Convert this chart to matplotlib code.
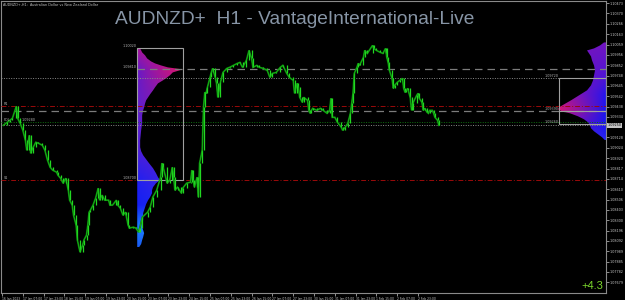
import numpy as np
import matplotlib
matplotlib.use("Agg")
import matplotlib.pyplot as plt
import matplotlib.transforms as mtransforms
from matplotlib.patches import Rectangle

## data ##

# H1 bars, index from the first bar on screen
bar_idx = [1, 4, 6, 8, 11, 12, 14, 16, 18, 19, 21, 22, 24, 26, 28, 31, 33, 35, 37, 39,
           42, 43, 45, 47, 49, 51, 52, 54, 55, 57, 58, 60, 62, 63, 65, 66, 67, 68, 70, 72,
           74, 75, 77, 79, 82, 83, 85, 88, 89, 91, 93, 95, 97, 98, 101, 103, 105, 106, 108, 112,
           114, 116, 119, 122, 123, 124, 127, 129, 131, 132, 133, 135, 138, 139, 142, 145, 146, 147, 148, 150,
           151, 152, 154, 155, 156, 157, 158, 160, 161, 162, 164, 165, 166, 168, 170, 173, 175, 178, 181, 183,
           185, 188, 190, 192, 193, 196, 198, 201, 204, 206, 208, 211, 214, 216, 219, 221, 224, 225, 227, 228,
           229, 231, 232, 235, 236, 237, 238, 239, 242, 245, 247, 250, 252, 253, 254, 256, 258, 261, 262, 264,
           266, 268, 269, 270, 271, 273, 274, 275, 278, 279, 281, 285, 286, 288, 291, 293, 295, 296, 297, 298,
           300, 301, 302, 304, 306, 308, 309, 310, 311, 312, 314, 315, 316, 319, 320, 321, 323, 324, 325, 327,
           328, 329, 331, 332, 333, 335, 336]
close = [1.0925, 1.0928, 1.0930, 1.0932, 1.0944, 1.0932, 1.0927, 1.0920, 1.0910, 1.0900, 1.0915, 1.0897, 1.0903, 1.0908, 1.0907, 1.0905, 1.0900, 1.0890, 1.0883, 1.0880,
         1.0878, 1.0875, 1.0872, 1.0867, 1.0872, 1.0860, 1.0850, 1.0845, 1.0835, 1.0825, 1.0810, 1.0798, 1.0805, 1.0810, 1.0815, 1.0825, 1.0838, 1.0840, 1.0845, 1.0852,
         1.0862, 1.0850, 1.0855, 1.0850, 1.0850, 1.0845, 1.0845, 1.0850, 1.0845, 1.0842, 1.0835, 1.0838, 1.0825, 1.0822, 1.0823, 1.0822, 1.0818, 1.0822, 1.0833, 1.0838,
         1.0843, 1.0853, 1.0860, 1.0873, 1.0887, 1.0883, 1.0867, 1.0870, 1.0883, 1.0873, 1.0860, 1.0863, 1.0857, 1.0862, 1.0867, 1.0868, 1.0880, 1.0870, 1.0863, 1.0873,
         1.0853, 1.0887, 1.0900, 1.0943, 1.0958, 1.0957, 1.0963, 1.0973, 1.0978, 1.0982, 1.0973, 1.0967, 1.0953, 1.0968, 1.0978, 1.0982, 1.0983, 1.0985, 1.0987, 1.0988,
         1.0983, 1.0990, 1.1000, 1.0992, 1.0983, 1.0985, 1.0983, 1.0982, 1.0980, 1.0973, 1.0977, 1.0978, 1.0983, 1.0985, 1.0977, 1.0973, 1.0970, 1.0957, 1.0967, 1.0963,
         1.0953, 1.0948, 1.0953, 1.0950, 1.0940, 1.0937, 1.0940, 1.0942, 1.0940, 1.0942, 1.0940, 1.0937, 1.0940, 1.0952, 1.0933, 1.0933, 1.0928, 1.0923, 1.0920, 1.0923,
         1.0927, 1.0937, 1.0947, 1.0957, 1.0977, 1.0983, 1.0987, 1.0985, 1.0993, 1.1000, 1.0997, 1.1005, 1.1002, 1.1000, 1.0998, 1.0997, 1.1002, 1.0993, 1.0988, 1.0980,
         1.0972, 1.0962, 1.0965, 1.0968, 1.0970, 1.0972, 1.0962, 1.0958, 1.0960, 1.0962, 1.0953, 1.0940, 1.0947, 1.0955, 1.0957, 1.0952, 1.0948, 1.0940, 1.0942, 1.0938,
         1.0937, 1.0940, 1.0940, 1.0937, 1.0933, 1.0930, 1.0925]

last_price = 1.0925

x_tick_bars = [0, 16, 32, 48, 64, 80, 96, 112, 128, 144, 160, 176, 192, 208, 224, 240, 256, 272, 288, 304, 320]
x_tick_labels = ["16 Jan 2023", "17 Jan 07:00", "17 Jan 23:00", "18 Jan 15:00", "19 Jan 07:00",
                 "19 Jan 23:00", "20 Jan 15:00", "23 Jan 07:00", "23 Jan 23:00", "24 Jan 15:00",
                 "25 Jan 07:00", "25 Jan 23:00", "26 Jan 15:00", "27 Jan 07:00", "27 Jan 23:00",
                 "30 Jan 15:00", "31 Jan 07:00", "31 Jan 23:00", "1 Feb 15:00", "2 Feb 07:00", "2 Feb 23:00"]
price_ticks = np.round(1.10473 - 0.001035 * np.arange(28), 5)
# the scale label under the current price box is hidden, as in the terminal
price_ticks = price_ticks[np.abs(price_ticks - last_price) > 0.0005]

# levels drawn across the chart
r1_level = 1.0944
s1_level = 1.0870
pd_level = 1.0928
dash_lo = 1.0939
dash_hi = 1.0981
dot_hi = 1.0972
dot_lo = 1.0925

# left volume profile (price rows, relative volume)
left_prices = [1.0803, 1.0806, 1.0810, 1.0813, 1.0817, 1.0820, 1.0823, 1.0826, 1.0830, 1.0833,
               1.0837, 1.0840, 1.0843, 1.0846, 1.0850, 1.0853, 1.0857, 1.0860, 1.0863, 1.0867,
               1.0870, 1.0873, 1.0877, 1.0882, 1.0887, 1.0891, 1.0895, 1.0899, 1.0903, 1.0910,
               1.0920, 1.0927, 1.0935, 1.0940, 1.0943, 1.0947, 1.0950, 1.0953, 1.0956, 1.0960,
               1.0963, 1.0967, 1.0970, 1.0972, 1.0975, 1.0978, 1.0981, 1.0983, 1.0985, 1.0987,
               1.0989, 1.0992, 1.0995, 1.0998, 1.1002]
left_vol = [2, 4, 5, 6, 7, 6, 5, 5, 6, 6,
            6, 7, 8, 9, 11, 13, 15, 15, 16, 19,
            23, 21, 19, 16, 12, 9, 6, 4, 3, 3,
            4, 5, 5, 6, 7, 8, 9, 11, 13, 16,
            18, 21, 26, 29, 33, 36, 46, 31, 24, 18,
            14, 10, 8, 5, 3]
left_box = (104.0, 139.0, 1.0870, 1.1002)   # bar from, bar to, low, high

# right volume profile
right_prices = [1.0910, 1.0913, 1.0916, 1.0919, 1.0922, 1.0925, 1.0928, 1.0931, 1.0934, 1.0937,
                1.0939, 1.0941, 1.0943, 1.0946, 1.0950, 1.0955, 1.0960, 1.0965, 1.0970, 1.0975,
                1.0980, 1.0985, 1.0990, 1.0994, 1.0997, 1.1000, 1.1002, 1.1005, 1.1008]
right_vol = [1, 4, 8, 12, 15, 16, 18, 22, 28, 36,
             44, 48, 47, 42, 35, 27, 19, 15, 13, 12,
             11, 12, 14, 15, 17, 19, 12, 6, 2]
right_box = (428.5, 464.6, 1.0926, 1.0972)

## drawing ##

x_lo, x_hi = -0.77, 464.6
y_lo, y_hi = 1.0757, 1.1050

fig = plt.figure(figsize=(6.25, 3.0), dpi=100, facecolor="black")
ax = fig.add_axes([1 / 625, 7 / 300, 605 / 625, 292.5 / 300])
ax.set_facecolor("black")


def draw_profile(prices, vols, anchor, max_w, direction, stops, inner, outer):
    prices = np.asarray(prices)
    w = np.asarray(vols, float) / max(vols) * max_w
    poly = ax.fill_betweenx(prices, anchor, anchor + direction * w, color="none", lw=0)
    py = np.linspace(prices.min(), prices.max(), 400)
    t = np.linspace(0, 1, 200) ** 0.8
    inner, outer = np.asarray(inner), np.asarray(outer)
    ci = np.stack([np.interp(py, stops, inner[:, k]) for k in range(3)], -1)
    co = np.stack([np.interp(py, stops, outer[:, k]) for k in range(3)], -1)
    img = ci[:, None, :] * (1 - t[None, :, None]) + co[:, None, :] * t[None, :, None]
    if direction > 0:
        extent = [anchor, anchor + max_w, prices.min(), prices.max()]
    else:
        img = img[:, ::-1]
        extent = [anchor - max_w, anchor, prices.min(), prices.max()]
    im = ax.imshow(img, extent=extent, origin="lower", aspect="auto", zorder=2,
                   interpolation="bilinear")
    im.set_clip_path(poly.get_paths()[0], transform=ax.transData)


draw_profile(left_prices, left_vol, left_box[0], left_box[1] - left_box[0], 1,
             [1.0803, 1.0823, 1.0845, 1.0870, 1.0900, 1.0950, 1.0981, 1.1002],
             [(0.1, 0.35, 0.95), (0.1, 0.5, 1.0), (0.08, 0.12, 0.95), (0.12, 0.12, 0.95),
              (0.3, 0.12, 0.85), (0.38, 0.12, 0.8), (0.38, 0.1, 0.8), (0.65, 0.08, 0.6)],
             [(0.15, 0.45, 1.0), (0.15, 0.5, 1.0), (0.12, 0.2, 0.95), (0.3, 0.15, 0.85),
              (0.38, 0.12, 0.8), (0.62, 0.08, 0.62), (0.88, 0.08, 0.42), (0.8, 0.08, 0.5)])
draw_profile(right_prices, right_vol, right_box[1], 36.9, -1,
             [1.0910, 1.0925, 1.0941, 1.0955, 1.0970, 1.1008],
             [(0.15, 0.15, 0.95), (0.08, 0.08, 0.95), (0.08, 0.08, 0.95), (0.12, 0.08, 0.95),
              (0.28, 0.08, 0.85), (0.45, 0.08, 0.75)],
             [(0.3, 0.15, 0.85), (0.5, 0.08, 0.72), (0.85, 0.08, 0.45), (0.68, 0.08, 0.6),
              (0.5, 0.08, 0.72), (0.45, 0.08, 0.75)])

# levels
red_ls = (0, (5, 2, 1, 2))
ax.axhline(r1_level, color="#9a0a0a", lw=0.7, ls=red_ls, zorder=3)
ax.axhline(s1_level, color="#9a0a0a", lw=0.7, ls=red_ls, zorder=3)
ax.axhline(dash_lo, color="#7c7c7c", lw=0.9, ls=(0, (6, 4)), zorder=3)
ax.hlines(dash_hi, left_box[0], x_hi, color="#7c7c7c", lw=0.9, ls=(0, (6, 4)), zorder=3)
ax.axhline(dot_hi, color="#8a8a8a", lw=0.7, ls=(0, (1, 1.5)), zorder=3)
ax.axhline(pd_level, color="#0e6e0e", lw=0.7, ls=(0, (1, 1.5)), zorder=3)
ax.axhline(dot_lo, color="#8a8a8a", lw=0.7, ls=(0, (1, 1.5)), zorder=3)

# profile boxes
for bx in (left_box, right_box):
    ax.add_patch(Rectangle((bx[0], bx[2]), bx[1] - bx[0], bx[3] - bx[2], fill=False,
                           ec="#a0a0a0", lw=0.8, zorder=4))
ax.hlines(dash_lo, right_box[0], right_box[1], color="#a0a0a0", lw=0.8, zorder=4)

lab = dict(fontsize=2.4, color="#b0b0b0", ha="right", va="bottom", zorder=7)
ax.text(left_box[0] - 0.5, left_box[3], "%.5f" % left_box[3], **lab)
ax.text(left_box[0] - 0.5, dash_hi, "%.5f" % dash_hi, **lab)
ax.text(left_box[0] - 0.5, left_box[2], "%.5f" % left_box[2], **lab)
ax.text(right_box[0] - 0.5, right_box[3], "%.5f" % right_box[3], **lab)
ax.text(right_box[0] - 0.5, dash_lo, "%.5f" % dash_lo, **lab)
ax.text(right_box[0] - 0.5, right_box[2], "%.5f" % right_box[2], **lab)

small = dict(fontsize=2.4, color="#b0b0b0", ha="left", va="bottom", zorder=7)
ax.text(1.5, r1_level, "R1", **small)
ax.text(1.5, s1_level, "S1", **small)
ax.text(1.5, pd_level, "PDL", **small)
ax.text(15, pd_level, "%.5f" % pd_level, **small)

# price bars: body line plus a vertical stroke per bar from the previous close
prev = [close[0]] + close[:-1]
ax.plot(bar_idx, close, color="#0a7a0a", lw=1.3, zorder=5, solid_joinstyle="miter")
ax.vlines(bar_idx, np.minimum(prev, close), np.maximum(prev, close),
          color="#22d822", lw=0.9, zorder=6)
ax.plot(bar_idx, close, color="#18b818", lw=0.5, zorder=6)

ax.set_xlim(x_lo, x_hi)
ax.set_ylim(y_lo, y_hi)

# axes styling
for s in ax.spines.values():
    s.set_color("#8a8a8a")
    s.set_linewidth(0.8)
ax.yaxis.tick_right()
ax.set_yticks(price_ticks, ["%.5f" % p for p in price_ticks])
ax.tick_params(axis="y", length=2, width=0.5, pad=0.8, labelsize=2.4,
               colors="#c8c8c8", direction="out")
ax.set_xticks(x_tick_bars, x_tick_labels)
for t in ax.get_xticklabels():
    t.set_horizontalalignment("left")
ax.tick_params(axis="x", length=2, width=0.5, pad=0.6, labelsize=2.2,
               colors="#c8c8c8", direction="out")

trans = mtransforms.blended_transform_factory(ax.transAxes, ax.transData)
ax.text(1.003, last_price, "%.5f" % last_price, transform=trans, fontsize=2.4,
        color="black", ha="left", va="center", clip_on=False, zorder=8,
        bbox=dict(boxstyle="square,pad=0.2", fc="#c4c4c4", ec="none"))

fig.text(115 / 625, 1 - 20 / 300, "AUDNZD+  H1 - VantageInternational-Live",
         fontsize=13.8, family="Liberation Sans", color="#8795a6", ha="left", va="center")
fig.text(3 / 625, 1 - 4.5 / 300, "AUDNZD+,H1:  Australian Dollar vs New Zealand Dollar",
         fontsize=2.4, color="#c0c0c0", ha="left", va="center")
fig.text(603 / 625, 1 - 286 / 300, "+4.3", fontsize=8, family="Liberation Sans",
         color="#7cd82c", ha="right", va="center")

fig.savefig("out.png", dpi=100, facecolor="black")
